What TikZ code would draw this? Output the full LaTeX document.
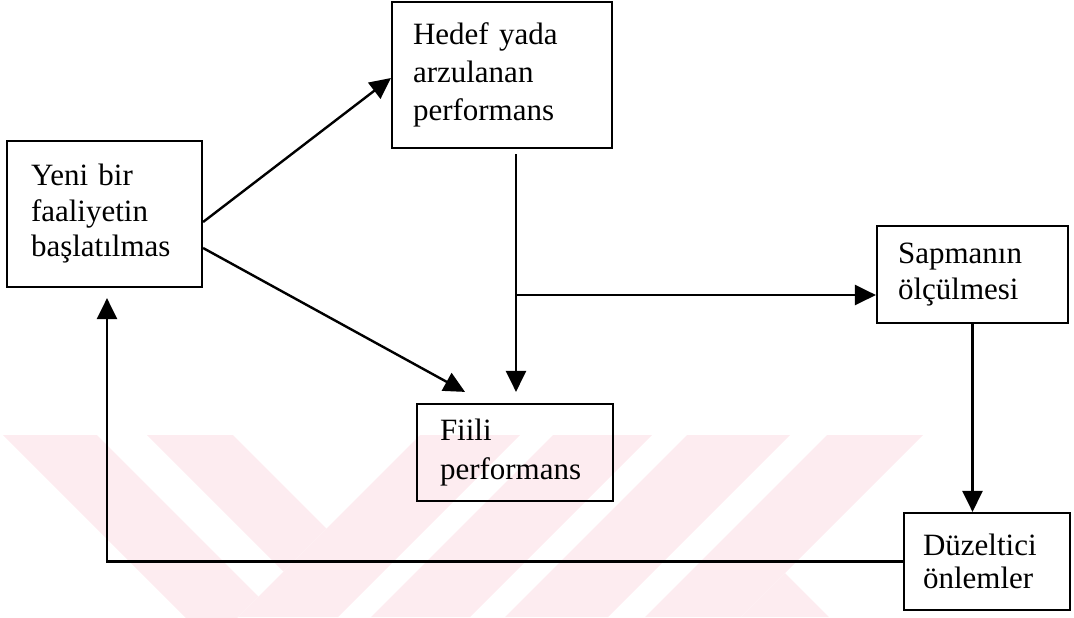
\documentclass[tikz,border=0pt]{standalone}
\usepackage{fontspec}
\setmainfont{Liberation Serif}
\usetikzlibrary{arrows.meta,calc}
\definecolor{wmpink}{RGB}{253,236,240}
\begin{document}
\begin{tikzpicture}[x=0.5pt,y=-0.5pt,
  blk/.style={draw, line width=1.1pt, rectangle, align=left, inner ysep=0pt},
  fs/.style={font=\fontsize{15.5}{#1}\selectfont},
  arr/.style={line width=1.2pt, -{Triangle[length=10.5pt,width=10pt]}},
]
\useasboundingbox (0,0) rectangle (1074,617);

% striped band behind the lower part of the chart
\begin{scope}
  \clip (0,435) rectangle (1074,617);
  % stripes falling to the right
  \fill[wmpink] (3,435) -- (97,435) -- (258.5,596.5) -- (211.5,643.5) -- cycle;
  \fill[wmpink] (147,435) -- (233,435) -- (326.5,528.5) -- (283.5,571.5) -- cycle;
  % stripes rising to the right
  \fill[wmpink] (420,435) -- (520,435) -- (338,617) -- (238,617) -- cycle;
  \fill[wmpink] (553,435) -- (652,435) -- (470,617) -- (371,617) -- cycle;
  \fill[wmpink] (687,435) -- (790,435) -- (608,617) -- (505,617) -- cycle;
  \fill[wmpink] (827,435) -- (923,435) -- (741,617) -- (645,617) -- cycle;
  \fill[wmpink] (785,573) -- (829,617) -- (741,617) -- cycle;
\end{scope}

% boxes
\node[blk, fs=17.75, text width=73.5pt, inner xsep=12pt, minimum height=73pt]
  (yeni) at (104.5,214) {Yeni bir\\faaliyetin\\başlatılmas};
\node[blk, fs=19, text width=89pt, inner xsep=10.5pt, minimum height=73pt]
  (hedef) at (502,75) {Hedef yada\\arzulanan\\performans};
\node[blk, fs=19.5, text width=75pt, inner xsep=11.5pt, minimum height=48.5pt]
  (fiili) at (515,452.5) {Fiili\\performans};
\node[blk, fs=18, text width=74.5pt, inner xsep=10.5pt, minimum height=48.5pt]
  (sapma) at (972.5,274.5) {Sapmanın\\ölçülmesi};
\node[blk, fs=16.5, text width=64pt, inner xsep=9.5pt, minimum height=48.5pt]
  (duz) at (987,561.5) {Düzeltici\\önlemler};

% junction and corner points
\coordinate (j) at (516,295);
\coordinate (k) at (107,561.5);

% connectors
\draw[arr] ([yshift=-4pt]yeni.east) -- ([yshift=-1.5pt]hedef.west);
\draw[arr] ([yshift=-17pt]yeni.east) -- ([xshift=-25pt,yshift=5.5pt]fiili.north);
\draw[arr] ([yshift=-2.5pt]hedef.south -| j) -- ([yshift=5.5pt]fiili.north -| j);
\draw[arr] (j) -- (j -| sapma.west);
\draw[arr] (sapma.south) -- (sapma.south |- duz.north);
\draw[arr] (duz.west) -| ([yshift=-5pt]k |- yeni.south);
\end{tikzpicture}
\end{document}
